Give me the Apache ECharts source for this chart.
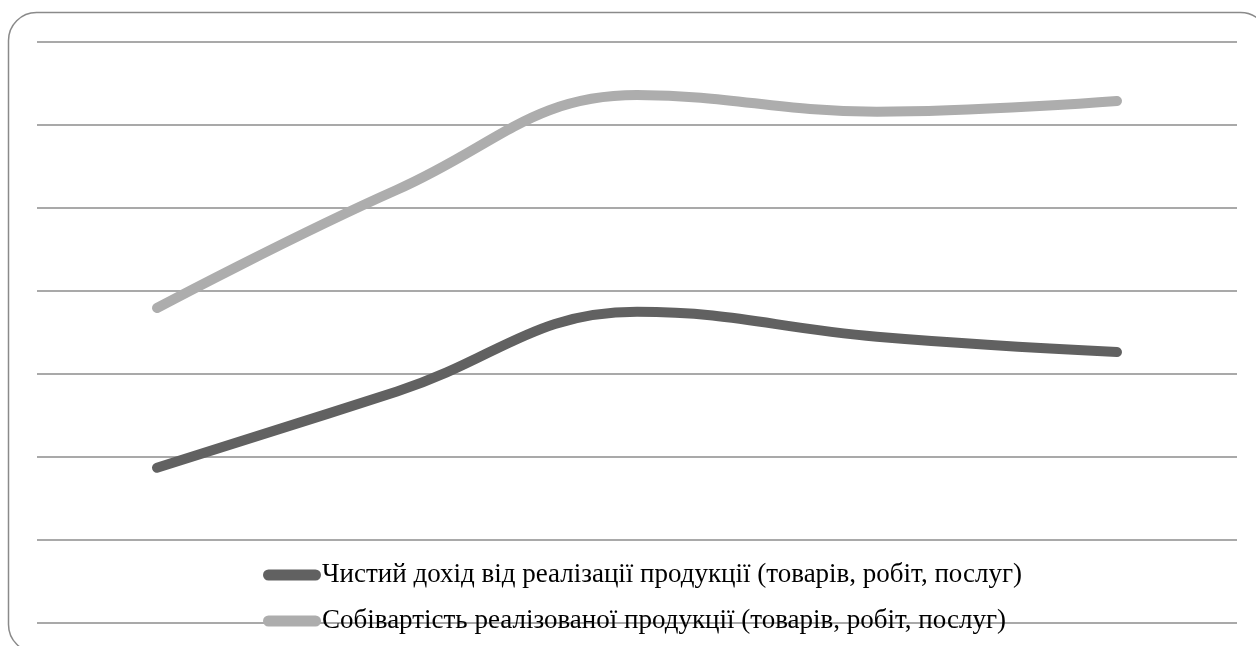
<!DOCTYPE html>
<html>
<head>
<meta charset="utf-8">
<script src="https://cdn.jsdelivr.net/npm/echarts@6/dist/echarts.min.js"></script>
<style>
  html, body { margin: 0; padding: 0; background: #fff; }
  #chart { width: 1256px; height: 646px; }
</style>
</head>
<body>
<div id="chart"></div>
<script>
// Periods along the horizontal axis (labels are not shown on the chart)
const periods = ['2019', '2020', '2021', '2022', '2023'];

// Net revenue from sales of products (goods, works, services)
const netRevenue = [18700, 27900, 37500, 34500, 32650];

// Cost of goods sold (goods, works, services)
const costOfSales = [37950, 52200, 63600, 61600, 62900];

const seriesNames = [
  'Чистий дохід від реалізації продукції (товарів, робіт, послуг)',
  'Собівартість реалізованої продукції (товарів, робіт, послуг)'
];

// Value axis range and step (gridlines only)
const yMin = 0, yMax = 70000, yStep = 10000;

// Rounded bar used as the legend key
const pillIcon = 'path://M5.5,0 H52.5 A5.5,5.5 0 0 1 52.5,11 H5.5 A5.5,5.5 0 0 1 5.5,0 Z';

const chart = echarts.init(document.getElementById('chart'), null, { renderer: 'canvas' });

chart.setOption({
  animation: false,
  backgroundColor: '#ffffff',
  graphic: [{
    type: 'rect',
    shape: { x: 8.5, y: 12.5, width: 1260, height: 640, r: 28 },
    style: { fill: 'none', stroke: '#8a8a8a', lineWidth: 1.5 },
    silent: true,
    z: 0
  }],
  grid: { left: 37, right: 19, top: 42, bottom: 23, containLabel: false },
  xAxis: {
    type: 'category',
    data: periods,
    boundaryGap: true,
    axisLine: { show: false },
    axisTick: { show: false },
    axisLabel: { show: false },
    splitLine: { show: false }
  },
  yAxis: {
    type: 'value',
    min: yMin,
    max: yMax,
    interval: yStep,
    axisLine: { show: false },
    axisTick: { show: false },
    axisLabel: { show: false },
    splitLine: { show: true, lineStyle: { color: '#8c8c8c', width: 1.5 } }
  },
  legend: {
    orient: 'vertical',
    left: 258,
    top: 555,
    itemWidth: 60,
    itemHeight: 11,
    itemGap: 16,
    icon: pillIcon,
    textStyle: {
      fontFamily: '"Liberation Serif", "DejaVu Serif", serif',
      fontSize: 27,
      color: '#000',
      lineHeight: 30,
      padding: [0, 0, 0, -5]
    },
    data: seriesNames
  },
  series: [
    {
      name: seriesNames[0],
      type: 'line',
      data: netRevenue,
      smooth: 0.42,
      showSymbol: false,
      symbol: 'none',
      color: '#616161',
      lineStyle: { width: 10, color: '#616161', cap: 'round', join: 'round' },
      z: 3
    },
    {
      name: seriesNames[1],
      type: 'line',
      data: costOfSales,
      smooth: 0.42,
      showSymbol: false,
      symbol: 'none',
      color: '#adadad',
      lineStyle: { width: 10, color: '#adadad', cap: 'round', join: 'round' },
      z: 3
    }
  ]
});
</script>
</body>
</html>
